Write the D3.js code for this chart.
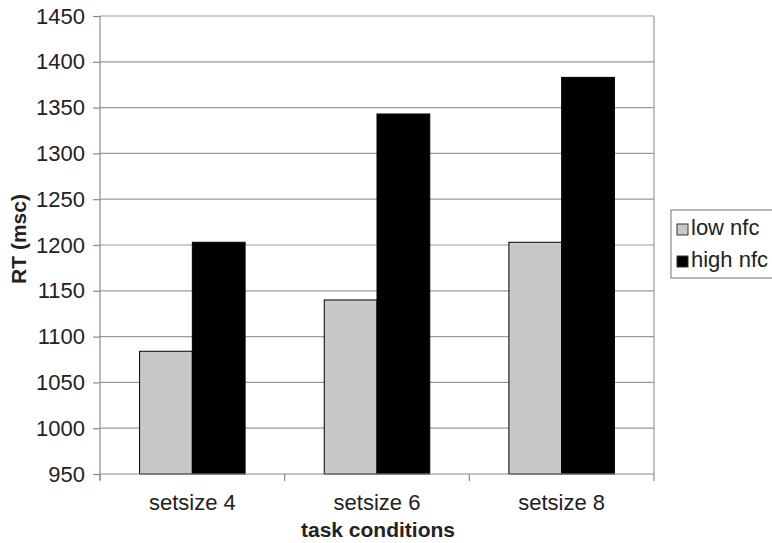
<!DOCTYPE html>
<html>
<head>
<meta charset="utf-8">
<script src="https://cdn.jsdelivr.net/npm/d3@7"></script>
<style>
  body { margin: 0; background: #fff; }
  text { font-family: "Liberation Sans", Arial, sans-serif; fill: #222; }
</style>
</head>
<body>
<div id="chart"></div>
<script>
const categories = ["setsize 4", "setsize 6", "setsize 8"];
const series = ["low nfc", "high nfc"];
const lowNfc = [1084, 1140, 1203];
const highNfc = [1203, 1343, 1383];
const yTicks = [950, 1000, 1050, 1100, 1150, 1200, 1250, 1300, 1350, 1400, 1450];

const W = 772, H = 543;
const plot = {left: 100, right: 654, top: 16, bottom: 474};
const colors = {"low nfc": "#c8c8c8", "high nfc": "#000000"};

const svg = d3.select("#chart").append("svg")
    .attr("width", W)
    .attr("height", H);

const x = d3.scaleBand()
    .domain(categories)
    .range([plot.left, plot.right]);

// excel-style gap width 150%: bars take 2 / 3.5 of each band
const xInner = d3.scaleBand()
    .domain(series)
    .range([0, x.bandwidth() * 2 / 3.5]);

const y = d3.scaleLinear()
    .domain([950, 1450])
    .range([plot.bottom, plot.top]);

// gridlines
svg.append("g")
    .selectAll("line")
    .data(yTicks.slice(1))
    .join("line")
    .attr("x1", plot.left).attr("x2", plot.right)
    .attr("y1", d => y(d)).attr("y2", d => y(d))
    .style("stroke", "#9a9a9a")
    .style("stroke-width", 1.2);

// right border of plot
svg.append("line")
    .attr("x1", plot.right).attr("x2", plot.right)
    .attr("y1", plot.top).attr("y2", plot.bottom)
    .style("stroke", "#9a9a9a")
    .style("stroke-width", 1.2);

// bars
const rows = categories.map((c, i) => ({cat: c, values: [
    {key: "low nfc", v: lowNfc[i]},
    {key: "high nfc", v: highNfc[i]}
]}));

const groups = svg.append("g")
    .selectAll("g")
    .data(rows)
    .join("g")
    .attr("transform", d => `translate(${x(d.cat) + x.bandwidth() * 0.75 / 3.5},0)`);

groups.selectAll("rect")
    .data(d => d.values)
    .join("rect")
    .attr("x", d => xInner(d.key))
    .attr("y", d => y(d.v))
    .attr("width", xInner.bandwidth())
    .attr("height", d => y(950) - y(d.v))
    .style("fill", d => colors[d.key])
    .style("stroke", "#000")
    .style("stroke-width", 1);

// y axis
const yAxis = svg.append("g")
    .attr("transform", `translate(${plot.left},0)`)
    .call(d3.axisLeft(y).tickValues(yTicks).tickSize(7).tickPadding(8).tickFormat(d3.format("d")));
yAxis.select(".domain").attr("d", `M0,${plot.top}V${plot.bottom + 6}`).style("stroke", "#8a8a8a").style("stroke-width", 1.2);
yAxis.selectAll(".tick line").style("stroke", "#8a8a8a").style("stroke-width", 1.2);
yAxis.selectAll("text").style("font-size", "22px").style("fill", "#222").style("font-family", "Liberation Sans, Arial, sans-serif");

// x axis
const xAxis = svg.append("g")
    .attr("transform", `translate(0,${plot.bottom})`)
    .call(d3.axisBottom(x).tickSize(0).tickPadding(20));
xAxis.select(".domain").attr("d", `M${plot.left},0H${plot.right}`).style("stroke", "#8a8a8a").style("stroke-width", 1.2);
xAxis.selectAll("text").style("font-size", "22px").style("fill", "#222").style("font-family", "Liberation Sans, Arial, sans-serif");
xAxis.append("g")
    .selectAll("line")
    .data(categories.map(c => x(c)).concat([plot.right]))
    .join("line")
    .attr("x1", d => d).attr("x2", d => d)
    .attr("y1", 0).attr("y2", 7)
    .style("stroke", "#8a8a8a")
    .style("stroke-width", 1.2);

// axis titles
svg.append("text")
    .attr("x", (plot.left + plot.right) / 2 + 1)
    .attr("y", 537)
    .attr("text-anchor", "middle")
    .style("font-size", "21px")
    .style("font-weight", "bold")
    .text("task conditions");

svg.append("text")
    .attr("transform", `translate(26,${(plot.top + plot.bottom) / 2 - 6}) rotate(-90)`)
    .attr("text-anchor", "middle")
    .style("font-size", "21px")
    .style("font-weight", "bold")
    .text("RT (msc)");

// legend
const legend = svg.append("g").attr("transform", "translate(671,210)");
legend.append("rect")
    .attr("width", 110).attr("height", 68)
    .style("fill", "#fff")
    .style("stroke", "#8a8a8a")
    .style("stroke-width", 1.2);
const items = legend.selectAll("g.item")
    .data(series)
    .join("g")
    .attr("class", "item")
    .attr("transform", (d, i) => `translate(6,${14 + i * 32})`);
items.append("rect")
    .attr("width", 11).attr("height", 11)
    .style("fill", d => colors[d])
    .style("stroke", "#333")
    .style("stroke-width", 1);
items.append("text")
    .attr("x", 14)
    .attr("y", 11)
    .style("font-size", "22px")
    .text(d => d);
</script>
</body>
</html>
